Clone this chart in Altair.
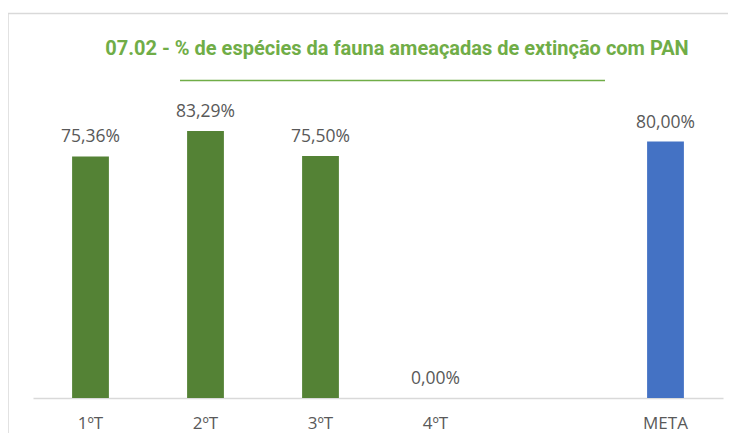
import altair as alt
import pandas as pd

categories = ["1ºT", "2ºT", "3ºT", "4ºT", " ", "META"]
values = [75.36, 83.29, 75.50, 0.00, None, 80.00]
labels = ["75,36%", "83,29%", "75,50%", "0,00%", "", "80,00%"]
kinds = ["real", "real", "real", "real", "vazio", "meta"]

df = pd.DataFrame({"cat": categories, "val": values, "lab": labels, "kind": kinds})
df_bars = df[df["kind"] != "vazio"]

x = alt.X("cat:N", sort=categories, scale=alt.Scale(domain=categories, paddingInner=0.68, paddingOuter=0.34),
          axis=alt.Axis(title=None, labelAngle=0, labelFontSize=17, labelColor="#595959",
                        labelFont="Open Sans", labelPadding=17, ticks=False,
                        domainColor="#D9D9D9", domainWidth=1.5))
y = alt.Y("val:Q", scale=alt.Scale(domain=[0, 100]), axis=None)

border = alt.Chart(pd.DataFrame({"a": [0]})).mark_rect(
    fillOpacity=0, stroke="#D9D9D9", strokeWidth=1.5
).encode(x=alt.value(-25), x2=alt.value(900), y=alt.value(-64), y2=alt.value(600))

bars = alt.Chart(df_bars).mark_bar().encode(
    x=x, y=y,
    color=alt.Color("kind:N", scale=alt.Scale(domain=["real", "meta"], range=["#548235", "#4472C4"]), legend=None),
)

text = alt.Chart(df_bars).mark_text(
    baseline="alphabetic", dy=-14, fontSize=17.5, font="Open Sans", color="#595959"
).encode(x=alt.X("cat:N", sort=categories), y=y, text="lab:N")

underline = alt.Chart(pd.DataFrame({"a": [0]})).mark_rule(
    color="#70AD47", strokeWidth=1.5
).encode(x=alt.value(147), x2=alt.value(572), y=alt.value(3))

title = alt.Chart(pd.DataFrame({"t": ["07.02 - % de espécies da fauna ameaçadas de extinção com PAN"]})).mark_text(
    fontSize=20, font="Roboto", fontWeight="bold", color="#70AD47", baseline="alphabetic", align="center"
).encode(x=alt.value(364), y=alt.value(-23), text="t:N")

chart = alt.layer(border, bars, text, underline, title).properties(
    width=690, height=320.5,
    autosize=alt.AutoSizeParams(type="none"),
    padding={"left": 25, "top": 69.5, "right": 5, "bottom": 35},
).configure_view(stroke=None)

chart.save("out.html", embed_options={"renderer": "svg", "actions": False})
